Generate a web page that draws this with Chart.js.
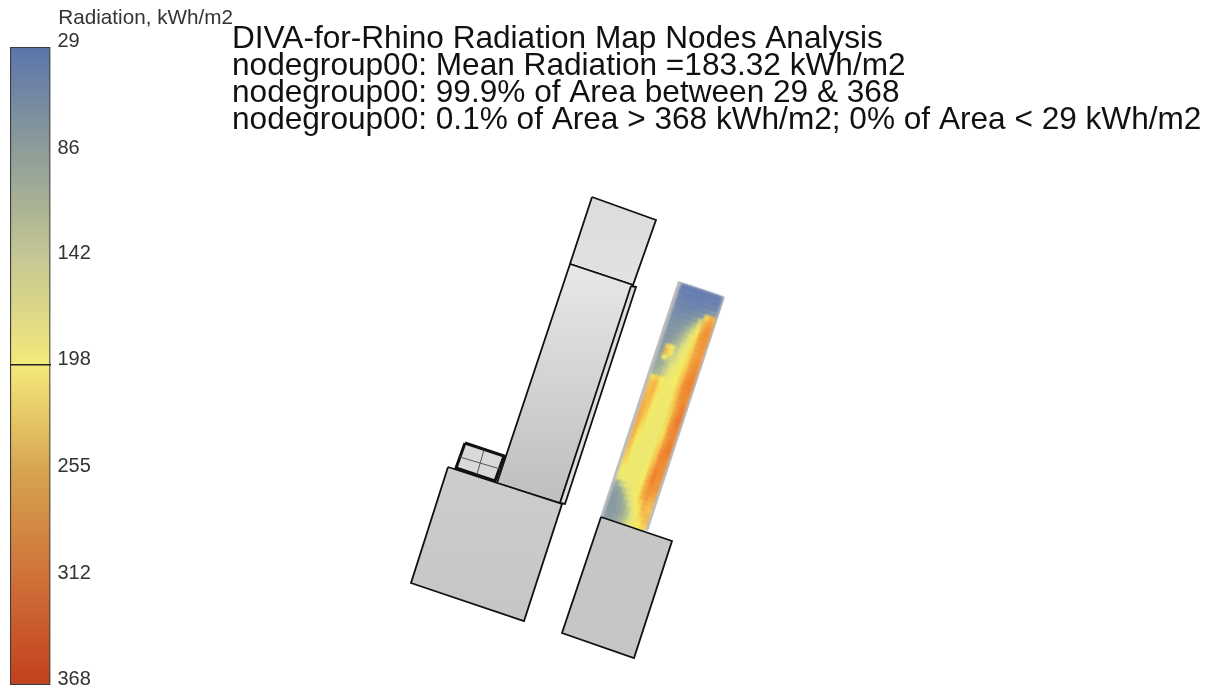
<!DOCTYPE html>
<html>
<head>
<meta charset="utf-8">
<style>
html,body{margin:0;padding:0;background:#fff;width:1215px;height:690px;overflow:hidden}
#legendWrap{position:absolute;left:0;top:0;width:233px;height:690px}
#mapWrap{position:absolute;left:232px;top:0;width:983px;height:690px}
</style>
<script src="https://cdn.jsdelivr.net/npm/chart.js@4"></script>
</head>
<body>
<div id="legendWrap"><canvas id="legend"></canvas></div>
<div id="mapWrap"><canvas id="map"></canvas></div>
<script>
const legendTitle = 'Radiation, kWh/m2';
const legendTicks = [29, 86, 142, 198, 255, 312, 368];
const legendColors = ['#5b74ab', '#8f9f98', '#c6c793', '#f4e97a', '#d6a350', '#cf7038', '#c2401c'];
const nodeColors = ['#5f78b4', '#93a59c', '#e2e47e', '#f8ee62', '#f6b445', '#f08a30', '#e9501c'];
const mapTitle = [
  'DIVA-for-Rhino Radiation Map Nodes Analysis',
  'nodegroup00: Mean Radiation =183.32 kWh/m2',
  'nodegroup00: 99.9% of Area between 29 & 368',
  'nodegroup00: 0.1% of Area > 368 kWh/m2; 0% of Area < 29 kWh/m2'
];
const upperSlab = [[592,197],[656,220],[633,285],[570,264]];
const mainTower = [[570,264],[633,285],[560,503],[497,483]];
const sideStrip = [[631,286],[636,287],[565,504],[560,503]];
const podiumLeft = [[448,467],[562,504],[524,621],[411,583]];
const podiumRight = [[601,517],[672,541],[634,658],[562,633]];
const analysisStrip = [[678,281],[725,297],[648,531],[600,517]];
const roofBox = [[465,443],[504,456],[495,481],[456,468]];
const roofCrossA = [[460,457],[500,469]];
const roofCrossB = [[484,450],[477,474]];
const nodeCorner = [683.5, 287.5];
const nodeColStep = [4.4, 1.45];
const nodeRowStep = [-1.77, 5.3];
const nodeRadiation = [
  [38,36,35,35,36,36,37,38,40],
  [40,38,38,37,38,38,39,40,42],
  [44,42,41,40,41,42,44,46,48],
  [48,46,45,45,46,48,52,60,70],
  [52,50,50,52,55,60,70,220,260],
  [56,55,56,60,66,85,130,250,285],
  [60,60,64,70,85,110,170,270,300],
  [62,64,70,82,100,130,190,280,305],
  [64,68,76,92,115,150,205,285,300],
  [66,72,84,100,125,160,210,285,300],
  [70,78,90,108,135,170,215,280,295],
  [75,225,180,118,145,175,220,275,290],
  [80,250,205,125,155,180,220,280,300],
  [85,190,125,132,160,185,222,282,305],
  [88,95,115,140,170,190,225,285,310],
  [90,100,120,150,175,195,235,295,315],
  [95,105,125,155,180,195,240,305,320],
  [215,235,195,178,182,190,240,310,320],
  [240,250,205,180,180,188,240,305,315],
  [245,255,210,180,178,185,235,300,310],
  [250,250,205,178,176,182,230,295,315],
  [255,245,200,178,175,182,228,285,320],
  [260,240,195,176,175,180,225,285,325],
  [265,235,192,176,174,180,222,290,330],
  [270,230,188,175,174,178,218,295,325],
  [265,225,185,175,174,178,215,300,320],
  [260,215,182,174,172,176,212,295,315],
  [255,205,180,172,172,176,215,290,320],
  [250,200,178,172,172,176,222,295,325],
  [245,195,176,172,172,176,232,305,325],
  [240,190,176,172,172,178,240,315,320],
  [230,185,176,172,172,180,238,310,310],
  [225,182,175,172,174,182,248,315,305],
  [215,178,172,172,175,185,258,320,310],
  [200,175,170,172,176,190,265,325,305],
  [190,172,168,172,178,195,275,320,300],
  [150,170,170,175,180,205,260,305,300],
  [95,125,155,170,180,205,270,300,285],
  [78,90,120,155,175,200,260,290,265],
  [72,80,95,130,165,190,230,270,250],
  [70,76,85,105,140,175,205,255,240],
  [70,74,82,95,120,155,190,235,250],
  [72,75,82,92,110,140,175,215,245],
  [75,78,86,98,115,140,170,200,225]
];

function mixColor(stops, v) {
  const hex = c => [1,3,5].map(i => parseInt(c.substr(i,2),16));
  let i = 0;
  while (i < legendTicks.length - 2 && v > legendTicks[i+1]) i++;
  const t = Math.min(1, Math.max(0, (v - legendTicks[i]) / (legendTicks[i+1] - legendTicks[i])));
  const a = hex(stops[i]), b = hex(stops[i+1]);
  return 'rgb(' + a.map((c,k) => Math.round(c + (b[k]-c)*t)).join(',') + ')';
}
const toPoints = list => list.map(p => ({x:p[0], y:p[1]}));
const closed = list => toPoints(list.concat([list[0]]));

Chart.defaults.animation = false;
Chart.defaults.font.family = '"Liberation Sans", Arial, sans-serif';

new Chart(document.getElementById('legend'), {
  type: 'bar',
  data: {
    labels: [''],
    datasets: [{
      data: [[legendTicks[0], legendTicks[legendTicks.length-1]]],
      barPercentage: 1,
      categoryPercentage: 1,
      borderWidth: 1.5,
      borderSkipped: false,
      borderColor: '#3c3c3c',
      backgroundColor: ctx => {
        const s = ctx.chart.scales.y;
        const a = s.getPixelForValue(legendTicks[0]), b = s.getPixelForValue(legendTicks[legendTicks.length-1]);
        if (!Number.isFinite(a) || !Number.isFinite(b)) return legendColors[3];
        const g = ctx.chart.ctx.createLinearGradient(0, a, 0, b);
        legendTicks.forEach((v,i) => g.addColorStop((v-legendTicks[0])/(legendTicks[legendTicks.length-1]-legendTicks[0]), legendColors[i]));
        return g;
      }
    }]
  },
  options: {
    responsive: true,
    maintainAspectRatio: false,
    layout: {autoPadding: false, padding: {left: 10, top: 0, bottom: 5, right: 0}},
    plugins: {
      legend: {display: false},
      tooltip: {enabled: false},
      title: {
        display: true,
        text: legendTitle,
        align: 'end',
        color: '#333',
        font: {size: 20.7, weight: 'normal', lineHeight: '20px'},
        padding: {top: 8, bottom: 19}
      }
    },
    scales: {
      x: {display: false},
      y: {
        position: 'right',
        reverse: true,
        min: legendTicks[0],
        max: legendTicks[legendTicks.length-1],
        afterBuildTicks: s => { s.ticks = legendTicks.map(v => ({value:v})); },
        afterFit: s => { s.width = 182.5; s.paddingTop = 0; s.paddingBottom = 0; },
        border: {display: false},
        grid: {
          z: 1,
          drawTicks: false,
          lineWidth: 1.5,
          color: c => (c.tick && c.tick.value === 198) ? '#222' : 'rgba(0,0,0,0)'
        },
        ticks: {
          autoSkip: false,
          padding: 7,
          labelOffset: -6,
          color: '#333',
          font: {size: 20},
          callback: v => String(v)
        }
      }
    }
  }
});

const nodes = [];
nodeRadiation.forEach((row, r) => row.forEach((v, c) => nodes.push({
  x: nodeCorner[0] + c*nodeColStep[0] + r*nodeRowStep[0],
  y: nodeCorner[1] + c*nodeColStep[1] + r*nodeRowStep[1],
  v
})));

const gradFill = (y0, y1, c0, c1) => ctx => {
  const s = ctx.chart.scales.y;
  const a = s.getPixelForValue(y0), b = s.getPixelForValue(y1);
  if (!Number.isFinite(a) || !Number.isFinite(b)) return c0;
  const g = ctx.chart.ctx.createLinearGradient(0, a, 0, b);
  g.addColorStop(0, c0); g.addColorStop(1, c1);
  return g;
};
const poly = (list, fill, width, line) => ({
  data: closed(list), showLine: true, fill: 'shape', backgroundColor: fill,
  borderColor: line || '#111', borderWidth: width === undefined ? 1.8 : width,
  pointRadius: 0, borderJoinStyle: 'miter', tension: 0
});
const segment = (list, width, color) => ({
  data: toPoints(list), showLine: true, fill: false, borderColor: color, borderWidth: width, pointRadius: 0, tension: 0
});

const blurPlugin = {
  id: 'nodeBlur',
  beforeDatasetDraw(chart, args) {
    if (chart.data.datasets[args.index].nodeLayer) { chart.ctx.save(); chart.ctx.filter = 'blur(1.1px)'; }
  },
  afterDatasetDraw(chart, args) {
    if (chart.data.datasets[args.index].nodeLayer) { chart.ctx.restore(); }
  }
};

new Chart(document.getElementById('map'), {
  type: 'scatter',
  plugins: [blurPlugin],
  data: {
    datasets: [
      segment(roofCrossA, 1, '#555'),
      segment(roofCrossB, 1, '#555'),
      poly(roofBox, '#d9d9d9', 3),
      poly(podiumRight, '#c6c6c6'),
      poly(podiumLeft, gradFill(467,621,'#cdcdcd','#c6c6c6')),
      poly(sideStrip, '#dedede'),
      poly(mainTower, gradFill(264,503,'#e8e8e8','#bebebe')),
      poly(upperSlab, gradFill(197,285,'#dcdcdc','#e2e2e2')),
      {
        nodeLayer: true,
        data: nodes,
        pointStyle: 'rect',
        rotation: 18,
        radius: 4.8,
        borderWidth: 0,
        backgroundColor: c => mixColor(nodeColors, c.raw ? c.raw.v : 100)
      },
      poly(analysisStrip, '#bdbdc0', 0, 'rgba(0,0,0,0)')
    ]
  },
  options: {
    responsive: true,
    maintainAspectRatio: false,
    layout: {autoPadding: false, padding: 0},
    plugins: {
      legend: {display: false},
      tooltip: {enabled: false},
      title: {
        display: true,
        text: mapTitle,
        align: 'start',
        color: '#111',
        font: {size: 31.6, weight: 'normal', lineHeight: '27px'},
        padding: {top: 26, bottom: 0}
      }
    },
    scales: {
      x: {type: 'linear', display: false, min: 232, max: 1215},
      y: {type: 'linear', display: false, reverse: true, min: 134, max: 690}
    }
  }
});
</script>
</body>
</html>
